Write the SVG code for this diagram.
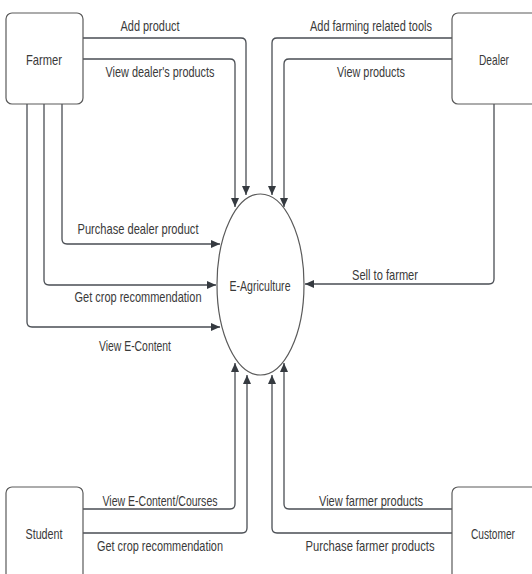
<svg xmlns="http://www.w3.org/2000/svg" width="532" height="574" viewBox="0 0 532 574">
<defs>
<marker id="arr" markerWidth="9" markerHeight="8" refX="9" refY="4" orient="auto" markerUnits="userSpaceOnUse">
<path d="M0,0 L9,4 L0,8 Z" fill="#353a40"/>
</marker>
<style>
.box{fill:#fff;stroke:#5a5a5a;stroke-width:1.2}
.el{fill:#fff;stroke:#5a5a5a;stroke-width:1.2}
.c{fill:none;stroke:#4a4e54;stroke-width:1.3;marker-end:url(#arr)}
text{font-family:"Liberation Sans",Arial,sans-serif;font-size:14.5px;fill:#3a3a3a;text-anchor:middle}
</style>
</defs>
<rect width="532" height="574" fill="#fff"/>
<g id="connectors">
<path class="c" d="M83,38 H241 Q246,38 246,43 V195"/>
<path class="c" d="M83,59 H230 Q235,59 235,64 V207"/>
<path class="c" d="M452,38 H277 Q272,38 272,43 V195"/>
<path class="c" d="M452,59 H289 Q284,59 284,64 V207"/>
<path class="c" d="M62,104 V239 Q62,244 67,244 H220"/>
<path class="c" d="M44,104 V280 Q44,285 49,285 H216"/>
<path class="c" d="M27,104 V322 Q27,327 32,327 H220"/>
<path class="c" d="M494,104 V279 Q494,284 489,284 H305"/>
<path class="c" d="M83,509 H230 Q235,509 235,504 V363"/>
<path class="c" d="M83,533 H242 Q247,533 247,528 V375"/>
<path class="c" d="M452,509 H289 Q284,509 284,504 V363"/>
<path class="c" d="M452,533 H277 Q272,533 272,528 V375"/>
<text x="150" y="31" textLength="59" lengthAdjust="spacingAndGlyphs">Add product</text>
<text x="160" y="77" textLength="109" lengthAdjust="spacingAndGlyphs">View dealer's products</text>
<text x="371" y="31" textLength="122" lengthAdjust="spacingAndGlyphs">Add farming related tools</text>
<text x="371" y="77" textLength="68" lengthAdjust="spacingAndGlyphs">View products</text>
<text x="138" y="234" textLength="121" lengthAdjust="spacingAndGlyphs">Purchase dealer product</text>
<text x="138" y="302" textLength="127" lengthAdjust="spacingAndGlyphs">Get crop recommendation</text>
<text x="135" y="351" textLength="72" lengthAdjust="spacingAndGlyphs">View E-Content</text>
<text x="385" y="280" textLength="66" lengthAdjust="spacingAndGlyphs">Sell to farmer</text>
<text x="160" y="506" textLength="115" lengthAdjust="spacingAndGlyphs">View E-Content/Courses</text>
<text x="160" y="551" textLength="126" lengthAdjust="spacingAndGlyphs">Get crop recommendation</text>
<text x="371" y="506" textLength="104" lengthAdjust="spacingAndGlyphs">View farmer products</text>
<text x="370" y="551" textLength="129" lengthAdjust="spacingAndGlyphs">Purchase farmer products</text>
</g>
<g id="farmer">
<rect class="box" x="6" y="13" width="77" height="91" rx="6"/>
<text x="44" y="65" textLength="36" lengthAdjust="spacingAndGlyphs">Farmer</text>
</g>
<g id="dealer">
<rect class="box" x="452" y="13" width="86" height="91" rx="6"/>
<text x="494" y="65" textLength="30" lengthAdjust="spacingAndGlyphs">Dealer</text>
</g>
<g id="student">
<rect class="box" x="6" y="487" width="77" height="100" rx="6"/>
<text x="44" y="539" textLength="37" lengthAdjust="spacingAndGlyphs">Student</text>
</g>
<g id="customer">
<rect class="box" x="452" y="487" width="86" height="100" rx="6"/>
<text x="493" y="539" textLength="44" lengthAdjust="spacingAndGlyphs">Customer</text>
</g>
<g id="eagriculture">
<ellipse class="el" cx="260.5" cy="284.5" rx="43.5" ry="90.5"/>
<text x="260" y="291" textLength="61" lengthAdjust="spacingAndGlyphs">E-Agriculture</text>
</g>
</svg>
